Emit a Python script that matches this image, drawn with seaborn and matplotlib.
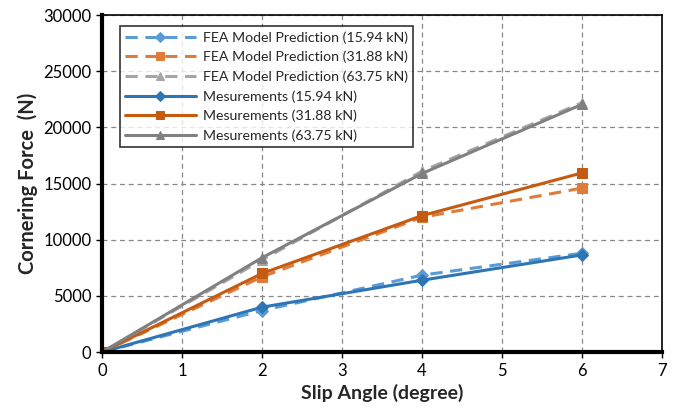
import numpy as np
import pandas as pd
import matplotlib
matplotlib.use("Agg")
import matplotlib.pyplot as plt
import seaborn as sns

# Data
slip_angle = [0, 2, 4, 6]
fea_1594 = [0, 3700, 6850, 8800]
fea_3188 = [0, 6700, 12000, 14600]
fea_6375 = [0, 8200, 16100, 22200]
meas_1594 = [0, 4000, 6400, 8650]
meas_3188 = [0, 7000, 12150, 15950]
meas_6375 = [0, 8400, 15900, 22050]

labels = [
    "FEA Model Prediction (15.94 kN)",
    "FEA Model Prediction (31.88 kN)",
    "FEA Model Prediction (63.75 kN)",
    "Mesurements (15.94 kN)",
    "Mesurements (31.88 kN)",
    "Mesurements (63.75 kN)",
]
series = [fea_1594, fea_3188, fea_6375, meas_1594, meas_3188, meas_6375]
colors = ["#5B9BD5", "#E07B39", "#A5A5A5", "#2E75B6", "#C55A11", "#808080"]
markers = ["D", "s", "^", "D", "s", "^"]
dashed = [True, True, True, False, False, False]

sns.set_style("white")
plt.rcParams["font.family"] = ["Lato", "DejaVu Sans"]

fig = plt.figure(figsize=(6.73, 4.08), dpi=100)
ax = fig.add_axes([0.1516, 0.137, 0.832, 0.826])

for vals, lab, c, m, d in zip(series, labels, colors, markers, dashed):
    df = pd.DataFrame({"x": slip_angle, "y": vals})
    sns.lineplot(data=df, x="x", y="y", ax=ax, color=c, marker=m,
                 markersize=7.5 if m != "D" else 6.5, markeredgecolor=c,
                 linewidth=2.2, label=lab,
                 linestyle=(0, (4, 2.5)) if d else "-")

ax.set_xlim(0, 7)
ax.set_ylim(0, 30000)
ax.set_xticks(range(0, 8))
ax.set_yticks(range(0, 30001, 5000))
ax.tick_params(axis="both", labelsize=12, length=4, width=1, direction="out",
               colors="black", left=True, bottom=True)
ax.grid(True, linestyle=(0, (4, 3)), color="#888888", linewidth=0.9)
ax.set_axisbelow(True)

for s in ["left", "bottom"]:
    ax.spines[s].set_linewidth(3)
    ax.spines[s].set_color("black")
for s in ["top", "right"]:
    ax.spines[s].set_linewidth(1.2)
    ax.spines[s].set_color("black")

ax.set_xlabel("Slip Angle (degree)", fontsize=14, fontweight="bold", labelpad=4)
ax.set_ylabel("Cornering Force  (N)", fontsize=14.5, fontweight="bold", labelpad=4)

leg = ax.legend(loc="upper left", bbox_to_anchor=(0.032, 0.967), fontsize=10.2,
                frameon=True, fancybox=False, edgecolor="black",
                borderaxespad=0, handlelength=5.0, borderpad=0.35,
                labelspacing=0.5, handletextpad=0.5, markerscale=0.85)
leg.get_frame().set_linewidth(1.2)

fig.savefig("out.png", dpi=100)
